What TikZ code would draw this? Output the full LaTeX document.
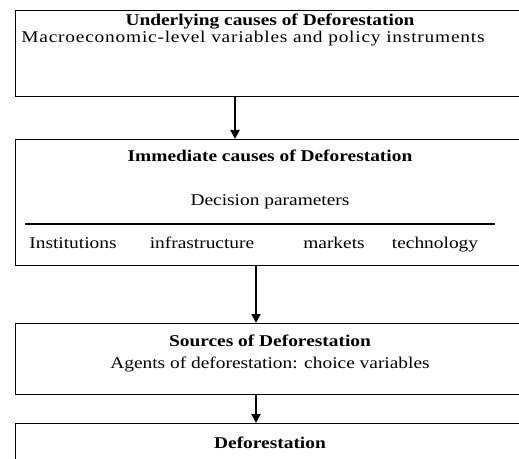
\documentclass[tikz,border=0pt]{standalone}
\usepackage{fontspec}
\setmainfont{Liberation Serif}
\usetikzlibrary{arrows.meta}
\newcommand{\hs}[1]{\scalebox{1.18}[1]{#1}}
\begin{document}
\begin{tikzpicture}[x=1bp,y=-1bp,
  box/.style={draw,line width=1.3bp,rectangle,minimum width=510bp,anchor=north west,inner sep=0pt},
  txt/.style={font=\fontsize{16.5}{18}\selectfont,inner sep=0pt,anchor=base},
  ttl/.style={txt,font=\fontsize{16.5}{18}\selectfont\bfseries},
  arr/.style={line width=2bp,-{Triangle[width=9bp,length=9bp]}}]
\useasboundingbox (0,0) rectangle (519,459);
\clip (0,0) rectangle (519,459);
\node[box,minimum height=86bp] (b1) at (15,10) {};
\node[box,minimum height=126bp] (b2) at (15,139) {};
\node[box,minimum height=71bp] (b3) at (15,323) {};
\node[box,minimum height=60bp] (b4) at (15,423) {};
\node[ttl] (t1) at (270,26) {\hs{Underlying causes of Deforestation}};
\node[txt] (s1) at (253,42.5) {\hs{\addfontfeature{LetterSpace=4}Macroeconomic-level variables and policy instruments}};
\node[ttl] (t2) at (270,161.5) {\hs{Immediate causes of Deforestation}};
\node[txt] (s2) at (270,206) {\hs{Decision parameters}};
\coordinate (hl) at (25,224);
\coordinate (hr) at (495,224);
\draw[line width=1.3bp] (hl) -- (hr);
\node[txt] (i1) at (73,249) {\hs{Institutions}};
\node[txt] (i2) at (202,249) {\hs{infrastructure}};
\node[txt] (i3) at (334,249) {\hs{markets}};
\node[txt] (i4) at (435,249) {\hs{technology}};
\node[ttl] (t3) at (270,346.5) {\hs{Sources of Deforestation}};
\node[txt] (s3) at (270,368) {\hs{Agents of deforestation: choice variables}};
\node[ttl] (t4) at (270,448) {\hs{Deforestation}};
\draw[arr] (b1.south -| 235,0) -- (b2.north -| 235,0);
\draw[arr] (b2.south -| 256,0) -- (b3.north -| 256,0);
\draw[arr] (b3.south -| 256,0) -- (b4.north -| 256,0);
\end{tikzpicture}
\end{document}
